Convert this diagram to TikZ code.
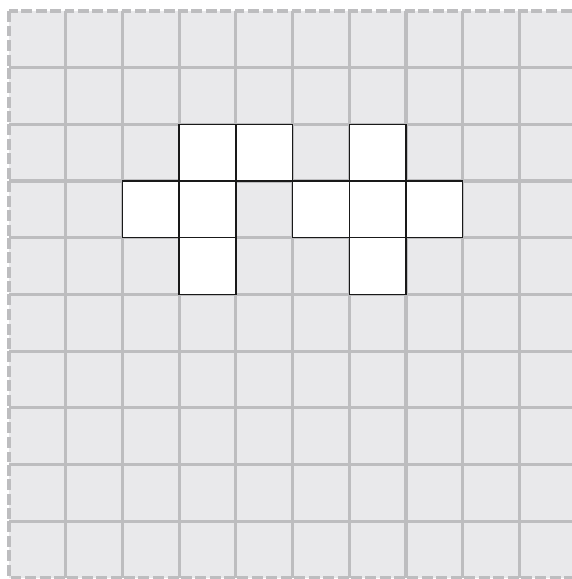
\documentclass[tikz,border=0pt]{standalone}
\usepackage{tikz}
\definecolor{cellgray}{HTML}{E9E9EB}
\definecolor{linegray}{HTML}{BDBDBF}
\tikzstyle{cell} = [draw=linegray, fill=cellgray, line width=1.6pt, dash pattern=on 5.5pt off 1.8pt]
\tikzstyle{seam} = [draw=linegray, line width=1.6pt]
\tikzstyle{blank} = [draw=black!90, fill=white, line width=0.7pt]

\begin{document}
\begin{tikzpicture}[x=1cm, y=1cm]
    \useasboundingbox (-0.159,-10.018) rectangle (9.929,0.194);
    \clip (-0.159,-10.018) rectangle (9.929,0.194);
    % background grid
    \foreach \c in {0,...,9}
      \foreach \r in {0,...,9}
        \draw[cell] (\c,-\r) rectangle ++(1,-1);
    \foreach \k in {1,...,9} {
      \draw[seam] (\k,0) -- (\k,-10);
      \draw[seam] (0,-\k) -- (10,-\k);
    }
    % white squares (column, row)
    \foreach \c/\r in {3/2, 4/2, 2/3, 3/3, 3/4, 6/2, 5/3, 6/3, 7/3, 6/4}
      \draw[blank] (\c,-\r) rectangle ++(1,-1);
  \end{tikzpicture}
\end{document}
